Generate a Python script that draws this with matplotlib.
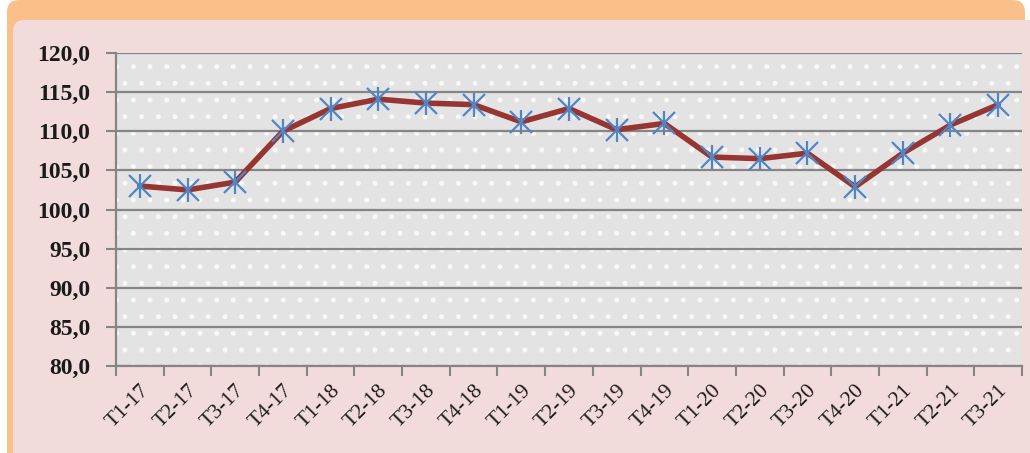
import matplotlib
matplotlib.use("Agg")
import matplotlib as mpl
import matplotlib.pyplot as plt
from matplotlib.patches import FancyBboxPatch, Rectangle
from matplotlib.ticker import FixedLocator, FixedFormatter

categories = ["T1-17", "T2-17", "T3-17", "T4-17",
              "T1-18", "T2-18", "T3-18", "T4-18",
              "T1-19", "T2-19", "T3-19", "T4-19",
              "T1-20", "T2-20", "T3-20", "T4-20",
              "T1-21", "T2-21", "T3-21"]
values = [103.0, 102.5, 103.5, 110.0,
          112.9, 114.1, 113.6, 113.4,
          111.2, 112.9, 110.2, 111.0,
          106.7, 106.5, 107.2, 102.9,
          107.2, 110.8, 113.4]
y_ticks = [80, 85, 90, 95, 100, 105, 110, 115, 120]
y_labels = ["80,0", "85,0", "90,0", "95,0", "100,0", "105,0", "110,0", "115,0", "120,0"]

mpl.rcParams["hatch.linewidth"] = 1.2

W, H = 1030, 453
fig = plt.figure(figsize=(W / 100, H / 100), dpi=100)
fig.patch.set_facecolor("white")

# orange frame and pink panel
orange = "#fbc08a"
pink = "#f2dcdb"
fig.patches.append(FancyBboxPatch((7 / W, -0.2), (1025 - 7) / W, 1.2,
                                  boxstyle="round,pad=0,rounding_size=0.012",
                                  transform=fig.transFigure, facecolor=orange,
                                  edgecolor="none", zorder=-2,
                                  mutation_aspect=W / H))
fig.patches.append(FancyBboxPatch((13 / W, -0.2), (W - 13) / W + 0.1, (H - 20) / H + 0.2,
                                  boxstyle="round,pad=0,rounding_size=0.011",
                                  transform=fig.transFigure, facecolor=pink,
                                  edgecolor="none", zorder=-1,
                                  mutation_aspect=W / H))

ax = fig.add_axes([116 / W, 1 - 366 / H, (1022 - 116) / W, (366 - 53) / H])
ax.set_zorder(1)
ax.set_facecolor("#e3e3e3")
ax.add_patch(Rectangle((0, 0), 1, 1, transform=ax.transAxes, facecolor="none",
                       edgecolor="#f8f8f8", hatch=".", linewidth=0, zorder=0.5))

x = list(range(len(categories)))
ax.set_xlim(-0.5, len(categories) - 0.5)
ax.set_ylim(80, 120)

for yt in y_ticks:
    ax.axhline(yt, color="#858585", linewidth=1.6, zorder=1)

ax.plot(x, values, color="#973532", linewidth=4, solid_joinstyle="round",
        solid_capstyle="round", zorder=3)
ax.plot(x, values, linestyle="none", marker="x", markersize=16,
        markeredgecolor="#4f86c6", markeredgewidth=1.6, zorder=4)
ax.plot(x, values, linestyle="none", marker="|", markersize=17,
        markeredgecolor="#4f86c6", markeredgewidth=1.6, zorder=4)

ax.yaxis.set_major_locator(FixedLocator(y_ticks))
ax.yaxis.set_major_formatter(FixedFormatter(y_labels))
ax.xaxis.set_major_locator(FixedLocator([i - 0.5 for i in range(len(categories) + 1)]))
ax.xaxis.set_major_formatter(FixedFormatter([""] * (len(categories) + 1)))
ax.xaxis.set_minor_locator(FixedLocator(x))
ax.xaxis.set_minor_formatter(FixedFormatter(categories))

ax.tick_params(axis="y", which="major", length=7.5, width=1.5, color="#858585",
               pad=11, labelsize=17)
ax.tick_params(axis="x", which="major", length=7, width=1.5, color="#858585")
ax.tick_params(axis="x", which="minor", length=0, pad=11, labelsize=15.5)

for lbl in ax.get_yticklabels():
    lbl.set_fontfamily("Liberation Serif")
    lbl.set_fontweight("bold")
    lbl.set_color("#1a1a1a")
for lbl in ax.get_xticklabels(minor=True):
    lbl.set_fontfamily("Liberation Serif")
    lbl.set_rotation(45)
    lbl.set_ha("right")
    lbl.set_va("top")
    lbl.set_rotation_mode("anchor")
    lbl.set_color("#1a1a1a")

for side in ["top", "right"]:
    ax.spines[side].set_visible(False)
ax.spines["left"].set_color("#858585")
ax.spines["left"].set_linewidth(1.6)
ax.spines["bottom"].set_color("#858585")
ax.spines["bottom"].set_linewidth(1.6)

fig.savefig("out.png", dpi=100)
